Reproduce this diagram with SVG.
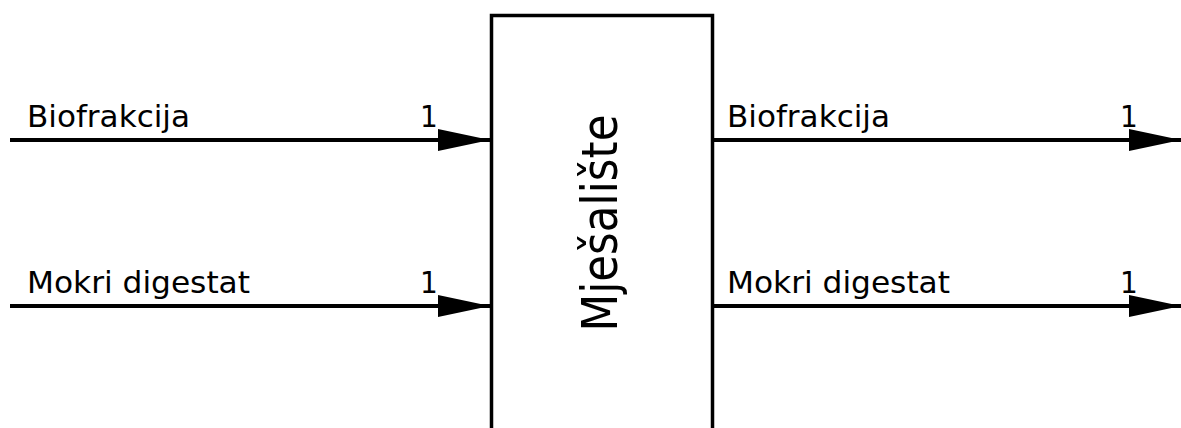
<svg xmlns="http://www.w3.org/2000/svg" width="1181" height="428" viewBox="0 0 1181 428">
<style>
.ln{stroke:#000;stroke-width:4;fill:none}
.lbl{font-family:"DejaVu Sans Condensed","DejaVu Sans",sans-serif;font-size:31px;fill:#000}
.box{fill:#fff;stroke:#000;stroke-width:3.5}
</style>
<defs>
<marker id="ah" markerUnits="userSpaceOnUse" markerWidth="53" markerHeight="24" refX="52" refY="12" orient="auto">
<path d="M0,1 L52,12 L0,23 Z" fill="#000"/>
</marker>
</defs>
<rect width="1181" height="428" fill="#fff"/>
<g id="connectors">
<line class="ln" x1="10" y1="140" x2="490" y2="140" marker-end="url(#ah)"/>
<line class="ln" x1="10" y1="306" x2="490" y2="306" marker-end="url(#ah)"/>
<line class="ln" x1="713" y1="140" x2="1181" y2="140" marker-end="url(#ah)"/>
<line class="ln" x1="713" y1="306" x2="1181" y2="306" marker-end="url(#ah)"/>
<text class="lbl" x="27" y="127" textLength="163" lengthAdjust="spacingAndGlyphs">Biofrakcija</text>
<text class="lbl" x="420" y="127">1</text>
<text class="lbl" x="27" y="293" textLength="223" lengthAdjust="spacingAndGlyphs">Mokri digestat</text>
<text class="lbl" x="420" y="293">1</text>
<text class="lbl" x="727" y="127" textLength="163" lengthAdjust="spacingAndGlyphs">Biofrakcija</text>
<text class="lbl" x="1120" y="127">1</text>
<text class="lbl" x="727" y="293" textLength="223" lengthAdjust="spacingAndGlyphs">Mokri digestat</text>
<text class="lbl" x="1120" y="293">1</text>
</g>
<g id="node-mjesaliste">
<rect class="box" x="491.5" y="15.5" width="221" height="420"/>
<text transform="translate(617,223) rotate(-90)" text-anchor="middle" font-family="DejaVu Sans Condensed, DejaVu Sans, sans-serif" font-size="50" textLength="217" lengthAdjust="spacingAndGlyphs">Mješalište</text>
</g>
</svg>
